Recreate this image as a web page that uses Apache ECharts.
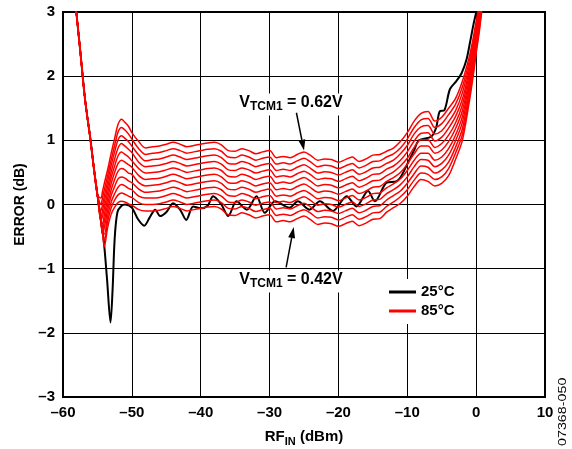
<!DOCTYPE html>
<html><head><meta charset="utf-8">
<script src="https://cdn.jsdelivr.net/npm/echarts@6/dist/echarts.min.js"></script>
<style>html,body{margin:0;padding:0;background:#fff}#c{width:572px;height:449px}</style>
</head><body><div id="c"></div>
<script>
// ---- data ----
const X_TICKS = [-60, -50, -40, -30, -20, -10, 0, 10];
const Y_TICKS = [-3, -2, -1, 0, 1, 2, 3];

// 25°C curve
const B_X = [-58.4,-57.5,-56.8,-56,-55.5,-55,-54.5,-54.1,-53.6,-53.1,-52.8,-52.5,-52.1,-51.5,-51,-50,-49.1,-48.2,-47.4,-46.6,-45.9,-45,-44,-43,-42.1,-41.1,-40,-39,-38.2,-37,-36,-34.8,-33.3,-31.9,-30.7,-29.2,-27.1,-25.9,-24.2,-22.7,-20.8,-18.8,-17.4,-15.7,-14.7,-13,-11.6,-11,-9.9,-9,-8.3,-6.5,-5.8,-5.3,-4.6,-3.8,-2.9,-2.1,-1.4,-0.9,-0.4,0.1,0.6];
const B_Y = [3.35,2.4,1.64,1.0,0.55,0.15,-0.25,-0.54,-1.17,-1.84,-1.33,-0.54,-0.12,-0.02,0.0,-0.05,-0.23,-0.33,-0.2,-0.08,-0.18,-0.12,0.02,-0.08,-0.24,-0.03,-0.06,-0.02,0.13,0.0,-0.18,0.05,-0.08,0.13,-0.13,0.05,-0.05,0.05,-0.08,0.05,-0.1,0.13,-0.03,0.21,0.05,0.34,0.36,0.42,0.65,0.85,1.0,1.06,1.2,1.45,1.47,1.8,1.92,2.05,2.26,2.52,2.8,3.05,3.5];

// 85°C curves, VTCM1 = 0.62V (R0) down to 0.42V (R10)
const R_X = [-58.4,-57.5,-56.8,-56,-55.5,-55,
  -54.5,-54.25,-54,-53.5,-53,-52.5,-52,-51.5,-51,-50.5,-50,-49,-48,
  -47,-46,-45,-44,-43,-42,-41,-40,-39,-38,-37,-36,-35,-34,-33,-32,-31,-30,-29,-28,-27,-26,-25,-24,-23,-22,-21,-20,-19,-18,-17,-16,-15,-14,
  -13,-12,-11,-10,-9,-8,-7,-6,-5,-4,-3,-2,-1,-0.5,0,0.5,1];
const R0 = [3.35,2.4,1.64,1.0,0.55,0.15,
  0.1,0.21,0.33,0.55,0.8,1.03,1.25,1.33,1.28,1.22,1.12,0.98,0.88,
  0.90,0.91,0.94,0.97,0.94,0.90,0.92,0.94,0.96,0.97,0.93,0.84,0.83,0.87,0.84,0.79,0.82,0.84,0.73,0.75,0.73,0.78,0.82,0.76,0.69,0.71,0.70,0.66,0.70,0.74,0.67,0.71,0.77,0.78,
  0.83,0.88,0.98,1.12,1.3,1.42,1.45,1.3,1.36,1.5,1.65,1.92,2.3,2.55,2.85,3.15,3.6];
const R1 = [3.35,2.4,1.64,1.0,0.55,0.15,
  0.0,0.11,0.23,0.46,0.7,0.92,1.13,1.20,1.16,1.10,1.02,0.87,0.78,
  0.80,0.81,0.84,0.87,0.84,0.80,0.82,0.84,0.86,0.87,0.83,0.74,0.73,0.77,0.74,0.69,0.72,0.74,0.63,0.65,0.63,0.68,0.72,0.66,0.59,0.61,0.60,0.56,0.60,0.64,0.57,0.61,0.67,0.68,
  0.74,0.79,0.88,1.02,1.20,1.32,1.34,1.20,1.26,1.40,1.56,1.83,2.23,2.49,2.80,3.11,3.56];
const R2 = [3.35,2.4,1.64,1.0,0.55,0.15,
  -0.1,0.0,0.13,0.37,0.61,0.82,1.01,1.07,1.03,0.98,0.91,0.77,0.68,
  0.70,0.71,0.74,0.77,0.74,0.70,0.72,0.74,0.76,0.77,0.73,0.64,0.63,0.67,0.64,0.59,0.62,0.64,0.53,0.55,0.53,0.58,0.62,0.56,0.49,0.51,0.50,0.46,0.50,0.54,0.47,0.51,0.57,0.58,
  0.64,0.69,0.79,0.92,1.10,1.21,1.23,1.10,1.15,1.29,1.46,1.74,2.16,2.43,2.75,3.07,3.52];
const R3 = [3.35,2.4,1.64,1.0,0.55,0.15,
  -0.2,-0.09,0.04,0.28,0.51,0.71,0.88,0.95,0.91,0.86,0.81,0.66,0.59,
  0.60,0.61,0.64,0.67,0.64,0.60,0.62,0.64,0.66,0.67,0.63,0.54,0.53,0.57,0.54,0.49,0.52,0.54,0.43,0.45,0.43,0.48,0.52,0.46,0.39,0.41,0.40,0.36,0.40,0.44,0.37,0.41,0.47,0.48,
  0.55,0.60,0.69,0.82,0.99,1.11,1.12,0.99,1.05,1.19,1.37,1.64,2.09,2.37,2.70,3.02,3.48];
const R4 = [3.35,2.4,1.64,1.0,0.55,0.15,
  -0.25,-0.18,-0.06,0.19,0.42,0.60,0.76,0.82,0.78,0.74,0.68,0.56,0.49,
  0.50,0.51,0.54,0.57,0.54,0.50,0.52,0.54,0.56,0.57,0.53,0.44,0.43,0.47,0.44,0.39,0.42,0.44,0.33,0.35,0.33,0.38,0.42,0.36,0.29,0.31,0.30,0.26,0.30,0.34,0.27,0.31,0.37,0.38,
  0.45,0.51,0.60,0.72,0.89,1.01,1.01,0.89,0.95,1.08,1.27,1.55,2.02,2.31,2.65,2.98,3.44];
const R5 = [3.35,2.4,1.64,1.0,0.55,0.15,
  -0.25,-0.3,-0.16,0.10,0.33,0.50,0.64,0.69,0.66,0.62,0.58,0.45,0.39,
  0.40,0.41,0.44,0.47,0.44,0.40,0.42,0.44,0.46,0.47,0.43,0.34,0.33,0.37,0.34,0.29,0.32,0.34,0.23,0.25,0.23,0.28,0.32,0.26,0.19,0.21,0.20,0.16,0.20,0.24,0.17,0.21,0.27,0.28,
  0.36,0.42,0.50,0.63,0.79,0.91,0.91,0.80,0.85,0.98,1.18,1.46,1.95,2.25,2.60,2.94,3.40];
const R6 = [3.35,2.4,1.64,1.0,0.55,0.15,
  -0.25,-0.41,-0.26,0.01,0.23,0.39,0.52,0.56,0.54,0.49,0.47,0.34,0.29,
  0.30,0.31,0.34,0.37,0.34,0.30,0.32,0.34,0.36,0.37,0.33,0.24,0.23,0.27,0.24,0.19,0.22,0.24,0.13,0.15,0.13,0.18,0.22,0.16,0.09,0.11,0.10,0.06,0.10,0.14,0.07,0.11,0.17,0.18,
  0.26,0.32,0.40,0.53,0.69,0.80,0.80,0.69,0.74,0.87,1.08,1.37,1.88,2.19,2.55,2.90,3.36];
const R7 = [3.35,2.4,1.64,1.0,0.55,0.15,
  -0.25,-0.46,-0.36,-0.08,0.14,0.28,0.40,0.43,0.41,0.37,0.34,0.24,0.19,
  0.20,0.21,0.24,0.27,0.24,0.20,0.22,0.24,0.26,0.27,0.23,0.14,0.13,0.17,0.14,0.09,0.12,0.14,0.03,0.05,0.03,0.08,0.12,0.06,-0.01,0.01,0.00,-0.04,0.00,0.04,-0.03,0.01,0.07,0.08,
  0.17,0.23,0.31,0.43,0.59,0.70,0.69,0.59,0.64,0.77,0.99,1.28,1.81,2.13,2.50,2.86,3.32];
const R8 = [3.35,2.4,1.64,1.0,0.55,0.15,
  -0.25,-0.455,-0.46,-0.17,0.04,0.17,0.27,0.31,0.29,0.25,0.23,0.13,0.10,
  0.10,0.11,0.14,0.17,0.14,0.10,0.12,0.14,0.16,0.17,0.13,0.04,0.03,0.07,0.04,-0.01,0.02,0.04,-0.07,-0.05,-0.07,-0.02,0.02,-0.04,-0.11,-0.09,-0.10,-0.14,-0.10,-0.06,-0.13,-0.09,-0.03,-0.02,
  0.07,0.14,0.21,0.33,0.48,0.60,0.58,0.49,0.54,0.66,0.89,1.18,1.74,2.07,2.45,2.81,3.28];
const R9 = [3.35,2.4,1.64,1.0,0.55,0.15,
  -0.25,-0.455,-0.56,-0.26,-0.05,0.07,0.15,0.18,0.16,0.13,0.11,0.03,0.0,
  0.00,0.01,0.04,0.07,0.04,0.00,0.02,0.04,0.06,0.07,0.03,-0.06,-0.07,-0.03,-0.06,-0.11,-0.08,-0.06,-0.17,-0.15,-0.17,-0.12,-0.08,-0.14,-0.21,-0.19,-0.20,-0.24,-0.20,-0.16,-0.23,-0.19,-0.13,-0.12,
  -0.03,0.04,0.12,0.23,0.38,0.49,0.47,0.39,0.43,0.56,0.80,1.09,1.67,2.01,2.40,2.77,3.24];
const R10 = [3.35,2.4,1.64,1.0,0.55,0.15,
  -0.25,-0.455,-0.66,-0.35,-0.15,-0.04,0.03,0.05,0.04,0.01,-0.01,-0.08,-0.10,
  -0.10,-0.09,-0.06,-0.03,-0.06,-0.10,-0.08,-0.06,-0.04,-0.03,-0.07,-0.16,-0.17,-0.13,-0.16,-0.21,-0.18,-0.16,-0.27,-0.25,-0.27,-0.22,-0.18,-0.24,-0.31,-0.29,-0.30,-0.34,-0.30,-0.26,-0.33,-0.29,-0.23,-0.22,
  -0.12,-0.05,0.02,0.13,0.28,0.39,0.36,0.29,0.33,0.45,0.7,1.0,1.6,1.95,2.35,2.73,3.2];
const RED_CURVES = [R0,R1,R2,R3,R4,R5,R6,R7,R8,R9,R10];

const SERIES_NAMES = ['25°C', '85°C'];
const LABEL_TOP = '0.62V';
const LABEL_BOT = '0.42V';

// ---- chart ----
const zip = (xs, ys) => xs.map((x, i) => [x, ys[i]]);
const dash = v => String(v).replace('-', '\u2013');
const FONT = 'Liberation Sans, Arial, sans-serif';

const chart = echarts.init(document.getElementById('c'), null, {renderer: 'canvas'});

const series = [{
  name: SERIES_NAMES[0], type: 'line', data: zip(B_X, B_Y),
  showSymbol: false, smooth: 0.3, clip: true,
  lineStyle: {color: '#000', width: 2}, itemStyle: {color: '#000'},
  z: 2, animation: false
}];
RED_CURVES.forEach(ys => series.push({
  name: SERIES_NAMES[1], type: 'line', data: zip(R_X, ys),
  showSymbol: false, smooth: 0.3, clip: true,
  lineStyle: {color: '#ff0000', width: 1.5}, itemStyle: {color: '#ff0000'},
  z: 3, animation: false
}));

chart.setOption({
  animation: false,
  backgroundColor: '#fff',
  grid: {left: 63, right: 27, top: 12, bottom: 52, containLabel: false, outerBoundsMode: 'none',
         show: true, borderColor: '#000', borderWidth: 2, backgroundColor: 'transparent'},
  xAxis: {
    type: 'value', min: X_TICKS[0], max: X_TICKS[X_TICKS.length - 1], interval: 10,
    axisLine: {show: false}, axisTick: {show: false},
    splitLine: {show: true, lineStyle: {color: '#000', width: 1}},
    axisLabel: {formatter: dash, color: '#000', fontSize: 15, fontWeight: 'bold', fontFamily: FONT, margin: 8},
    name: '{a|RF}{b|IN}{a| (dBm)}', nameLocation: 'middle', nameGap: 32,
    nameTextStyle: {color: '#000', fontFamily: FONT, rich: {
      a: {fontSize: 15, fontWeight: 'bold', color: '#000', fontFamily: FONT, verticalAlign: 'top'},
      b: {fontSize: 11, fontWeight: 'bold', color: '#000', fontFamily: FONT, verticalAlign: 'top', padding: [7, 0, 0, 0]}
    }}
  },
  yAxis: {
    type: 'value', min: Y_TICKS[0], max: Y_TICKS[Y_TICKS.length - 1], interval: 1,
    axisLine: {show: false}, axisTick: {show: false},
    splitLine: {show: true, lineStyle: {color: '#000', width: 1}},
    axisLabel: {formatter: dash, color: '#000', fontSize: 15, fontWeight: 'bold', fontFamily: FONT, margin: 8},
    name: 'ERROR (dB)', nameLocation: 'middle', nameGap: 32, nameRotate: 90,
    nameTextStyle: {color: '#000', fontSize: 14, fontWeight: 'bold', fontFamily: FONT}
  },
  legend: {
    data: [{name: SERIES_NAMES[0], icon: 'rect'}, {name: SERIES_NAMES[1], icon: 'rect'}],
    orient: 'vertical', left: 383, top: 279, itemWidth: 27, itemHeight: 3, itemGap: 3,
    padding: [5, 8, 5, 6], backgroundColor: '#fff',
    textStyle: {color: '#000', fontSize: 15, fontWeight: 'bold', fontFamily: FONT, lineHeight: 16},
    selectedMode: false
  },
  series: series
});

function labelRich() {
  return {
    v: {fontSize: 16, fontWeight: 'bold', fontFamily: FONT, fill: '#000', verticalAlign: 'top', lineHeight: 20},
    s: {fontSize: 12, fontWeight: 'bold', fontFamily: FONT, fill: '#000', verticalAlign: 'top', lineHeight: 20, padding: [6, 0, 0, 0]}
  };
}
function arrow(p0, p1) {
  const dx = p1[0] - p0[0], dy = p1[1] - p0[1];
  const L = Math.hypot(dx, dy), ux = dx / L, uy = dy / L;
  const hl = 11, hw = 3.5;
  const bx = p1[0] - ux * hl, by = p1[1] - uy * hl;
  return [
    {type: 'line', shape: {x1: p0[0], y1: p0[1], x2: bx, y2: by}, style: {stroke: '#000', lineWidth: 1.5}, z: 20},
    {type: 'polygon', shape: {points: [[p1[0], p1[1]], [bx - uy * hw, by + ux * hw], [bx + uy * hw, by - ux * hw]]}, style: {fill: '#000'}, z: 20}
  ];
}
const px = p => chart.convertToPixel({gridIndex: 0}, p);
const t1 = px([-26.9, 1.56]), t2 = px([-26.9, -1.2]);
const g = [
  {type: 'text', x: t1[0], y: t1[1], z: 19, style: {text: '{v|V}{s|TCM1}{v| = ' + LABEL_TOP + '}', rich: labelRich(), align: 'center', verticalAlign: 'middle', backgroundColor: '#fff', padding: [1, 3, 1, 3]}},
  {type: 'text', x: t2[0], y: t2[1], z: 19, style: {text: '{v|V}{s|TCM1}{v| = ' + LABEL_BOT + '}', rich: labelRich(), align: 'center', verticalAlign: 'middle', backgroundColor: '#fff', padding: [1, 3, 1, 3]}},
  ...arrow(px([-26.1, 1.43]), px([-25.0, 0.84])),
  ...arrow(px([-27.6, -0.98]), px([-26.5, -0.35])),
  {type: 'text', x: 557, y: 446, rotation: Math.PI / 2, scaleX: 1.3, style: {text: '07368-050', fontSize: 11, fontFamily: FONT, fill: '#000', align: 'left', verticalAlign: 'top'}}
];
chart.setOption({graphic: g});
</script>
</body></html>
